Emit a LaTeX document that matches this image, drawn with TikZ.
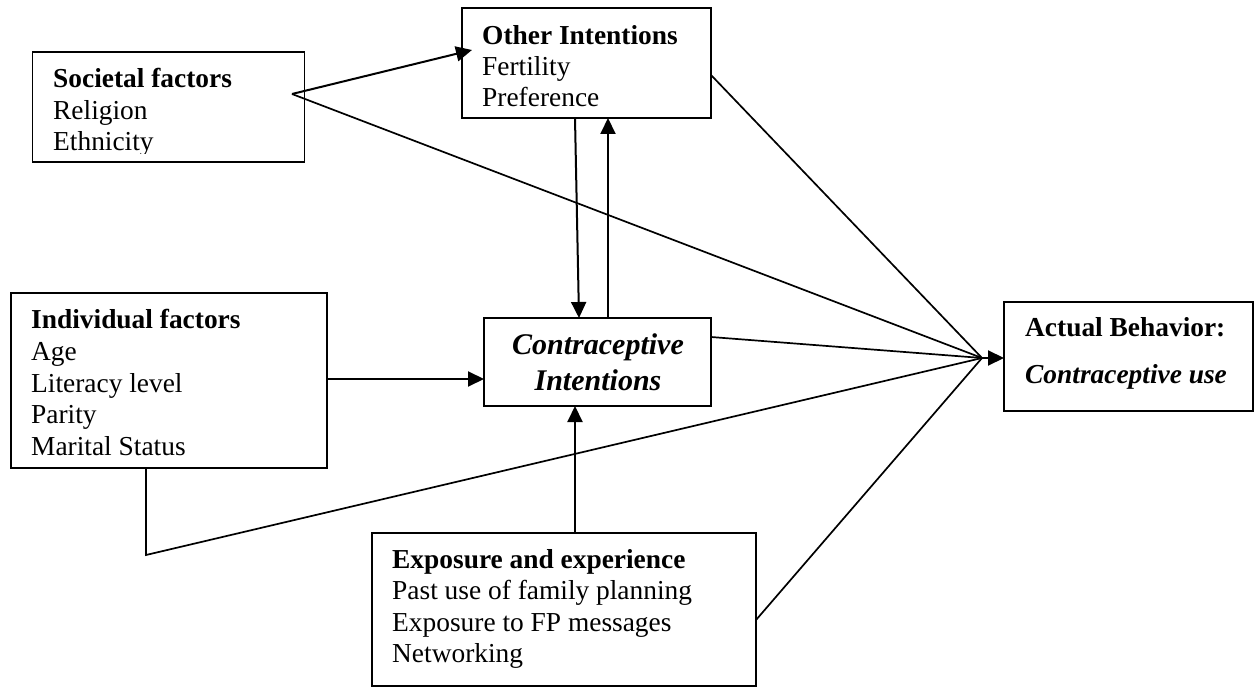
\documentclass[tikz,border=0pt]{standalone}
\usepackage{fontspec}
\setmainfont{Liberation Serif}
\usetikzlibrary{arrows.meta,calc}
\begin{document}
\begin{tikzpicture}[x=1pt,y=-1pt,
  box/.style={draw,line width=1.8pt,inner sep=0pt,outer sep=0pt,minimum width=#1},
  txt/.style={anchor=base west,inner sep=0pt,font=\fontsize{27.4}{31.5}\selectfont},
  ctxt/.style={anchor=base,inner sep=0pt,font=\fontsize{30}{34}\selectfont\bfseries\itshape},
  conn/.style={line width=1.7pt},
  arr/.style={line width=2pt,-{Triangle[length=16pt,width=15pt]}}]
\useasboundingbox (0,0) rectangle (1254,687);
% boxes
\node[box=272pt,minimum height=110pt] (soc) at (168.5,107) {};
\node[box=249pt,minimum height=110pt] (oth) at (586.5,63) {};
\node[box=316pt,minimum height=175pt] (ind) at (169,380.5) {};
\node[box=227pt,minimum height=88pt] (con) at (597.5,362) {};
\node[box=384pt,minimum height=153pt] (exp) at (564,609.5) {};
\node[box=249pt,minimum height=109pt] (act) at (1128.5,356.5) {};
% texts
\node[txt] (soc1) at (53,88) {\bfseries Societal factors};
\node[txt] (soc2) at (53,120) {Religion};
\begin{scope}
\clip (40,125) rectangle (300,154);
\node[txt] (soc3) at (53,151) {Ethnicity};
\end{scope}
\node[txt] (oth1) at (482,45) {\bfseries Other Intentions};
\node[txt] (oth2) at (482,76) {Fertility};
\node[txt] (oth3) at (482,107) {Preference};
\node[txt] (ind1) at (31,329) {\bfseries Individual factors};
\node[txt] (ind2) at (31,360.5) {Age};
\node[txt] (ind3) at (31,392) {Literacy level};
\node[txt] (ind4) at (31,423.5) {Parity};
\node[txt] (ind5) at (31,455) {Marital Status};
\node[ctxt] (con1) at (598,355) {Contraceptive};
\node[ctxt] (con2) at (598,390) {Intentions};
\node[txt] (exp1) at (392,568) {\bfseries Exposure and experience};
\node[txt] (exp2) at (392,599.5) {Past use of family planning};
\node[txt] (exp3) at (392,631) {Exposure to FP messages};
\node[txt] (exp4) at (392,662.5) {Networking};
\node[txt] (act1) at (1025,337) {\bfseries Actual Behavior:};
\node[txt] (act2) at (1025,383) {\bfseries\itshape Contraceptive use};
% coordinates
\coordinate (s0) at (292,94);
\coordinate (s1) at (472,50);
\coordinate (conv) at (982,358);
\coordinate (ib) at (146,555);
% connectors
\draw[arr] (s0) -- (s1);
\draw[conn] (s0) -- (conv);
\draw[arr] ([xshift=-11.5pt]oth.south) -- ([xshift=-18.5pt]con.north);
\draw[arr] ([xshift=10.5pt]con.north) -- ([xshift=21.5pt]oth.south);
\draw[conn] ([yshift=-12pt]oth.east) -- (conv);
\draw[arr] ([yshift=1.5pt]ind.east) -- ([yshift=1.5pt]ind.east -| con.west);
\draw[conn] ([xshift=-23pt]ind.south) -- (ib) -- (conv);
\draw[arr] ([xshift=11pt]exp.north) -- ([xshift=-22.5pt]con.south);
\draw[conn] ([yshift=-10.5pt]exp.east) -- (conv);
\draw[conn] ([yshift=25pt]con.east) -- (conv);
\draw[arr] (conv) -- (act.west |- conv);
\end{tikzpicture}
\end{document}
